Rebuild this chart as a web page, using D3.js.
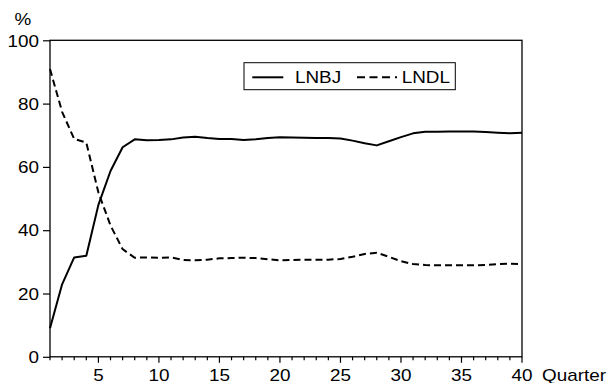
<!DOCTYPE html>
<html lang="en">
<head>
    <meta charset="UTF-8">
    <title>LNBJ / LNDL</title>
    <script src="https://d3js.org/d3.v7.min.js"></script>
    <style>
        body { margin: 0; background: #fff; }
        text { font-family: "Liberation Sans", Arial, sans-serif; font-size: 16px; fill: #000; }
    </style>
</head>
<body>
<script>
    // quarters 1..40
    var quarters = d3.range(1, 41);
    var lnbj = [9.0, 22.9, 31.4, 31.9, 48.0, 58.7, 66.2, 68.7, 68.4, 68.5,
                68.7, 69.3, 69.5, 69.1, 68.8, 68.8, 68.5, 68.7, 69.1, 69.4,
                69.3, 69.2, 69.1, 69.1, 69.0, 68.3, 67.5, 66.8, 68.1, 69.4,
                70.6, 71.1, 71.1, 71.2, 71.2, 71.2, 71.0, 70.8, 70.6, 70.8];
    var lndl = [90.9, 77.4, 68.8, 67.7, 51.9, 41.5, 34.0, 31.3, 31.4, 31.3,
                31.4, 30.6, 30.5, 30.7, 31.1, 31.2, 31.3, 31.2, 30.8, 30.5,
                30.6, 30.7, 30.7, 30.7, 30.9, 31.6, 32.5, 32.9, 31.6, 30.2,
                29.3, 29.0, 28.9, 28.9, 28.9, 28.9, 29.0, 29.3, 29.4, 29.3];
    var yTicks = [0, 20, 40, 60, 80, 100];
    var xLabelTicks = [5, 10, 15, 20, 25, 30, 35, 40];
    var seriesNames = ["LNBJ", "LNDL"];

    var w = 608, h = 383;
    var mLeft = 50, mRight = 522, mTop = 40.3, mBottom = 356.8;
    var sx = 1.18; // text looks horizontally stretched in the reference

    var svg = d3.select("body").append("svg")
        .attr("width", w).attr("height", h);

    var x = d3.scaleLinear().domain([1, 40]).range([mLeft, mRight]);
    var y = d3.scaleLinear().domain([0, 100]).range([mBottom, mTop]);

    // frame
    svg.append("rect")
        .attr("x", mLeft).attr("y", mTop)
        .attr("width", mRight - mLeft).attr("height", mBottom - mTop)
        .attr("fill", "none").attr("stroke", "#000").attr("stroke-width", 1.3);

    // y axis
    var yAxis = svg.append("g")
        .attr("transform", "translate(" + mLeft + ",0)")
        .call(d3.axisLeft(y).tickValues(yTicks).tickSize(7).tickPadding(4));
    yAxis.select(".domain").remove();
    yAxis.selectAll("line").attr("stroke-width", 1.2);
    yAxis.selectAll("text")
        .attr("dy", "0.36em")
        .attr("font-size", 16).attr("font-family", null)
        .attr("transform", "scale(" + sx + ",1)")
        .attr("x", -11 / sx);

    // x axis: minor ticks every quarter, longer ones every 5
    var xAxis = svg.append("g")
        .attr("transform", "translate(0," + mBottom + ")");
    xAxis.selectAll("line.tick")
        .data(quarters)
        .join("line")
        .attr("class", "tick")
        .attr("x1", d => x(d)).attr("x2", d => x(d))
        .attr("y1", 0).attr("y2", d => d % 5 === 0 ? 6 : 3.5)
        .attr("stroke", "#000").attr("stroke-width", 1.2);
    xAxis.selectAll("text.lab")
        .data(xLabelTicks)
        .join("text")
        .attr("class", "lab")
        .attr("text-anchor", "middle")
        .attr("transform", d => "translate(" + x(d) + ",23.7) scale(" + sx + ",1)")
        .text(d => d);

    svg.append("text")
        .attr("transform", "translate(542," + (mBottom + 23.7) + ") scale(" + sx + ",1)")
        .text("Quarter");

    svg.append("text")
        .attr("text-anchor", "middle")
        .attr("transform", "translate(23,25) scale(" + sx + ",1)")
        .text("%");

    // lines
    var line = (vals) => d3.line()
        .x((d, i) => x(quarters[i]))
        .y(d => y(d))(vals);

    svg.append("path")
        .attr("d", line(lnbj))
        .attr("fill", "none").attr("stroke", "#000").attr("stroke-width", 2)
        .attr("stroke-linejoin", "round");

    svg.append("path")
        .attr("d", line(lndl))
        .attr("fill", "none").attr("stroke", "#000").attr("stroke-width", 2)
        .attr("stroke-dasharray", "7,4");

    // legend
    var lg = svg.append("g");
    lg.append("rect")
        .attr("x", 244).attr("y", 62.7).attr("width", 211.3).attr("height", 27)
        .attr("fill", "#fff").attr("stroke", "#000").attr("stroke-width", 1);
    lg.append("line")
        .attr("x1", 252.3).attr("x2", 283.3).attr("y1", 77.3).attr("y2", 77.3)
        .attr("stroke", "#000").attr("stroke-width", 2);
    lg.append("line")
        .attr("x1", 357).attr("x2", 397).attr("y1", 77.3).attr("y2", 77.3)
        .attr("stroke", "#000").attr("stroke-width", 2)
        .attr("stroke-dasharray", "8,4.5,8,4.5,8,5,2");
    lg.selectAll("text")
        .data(seriesNames)
        .join("text")
        .attr("transform", (d, i) => "translate(" + [295, 401.7][i] + ",83) scale(" + sx + ",1)")
        .text(d => d);
</script>
</body>
</html>
